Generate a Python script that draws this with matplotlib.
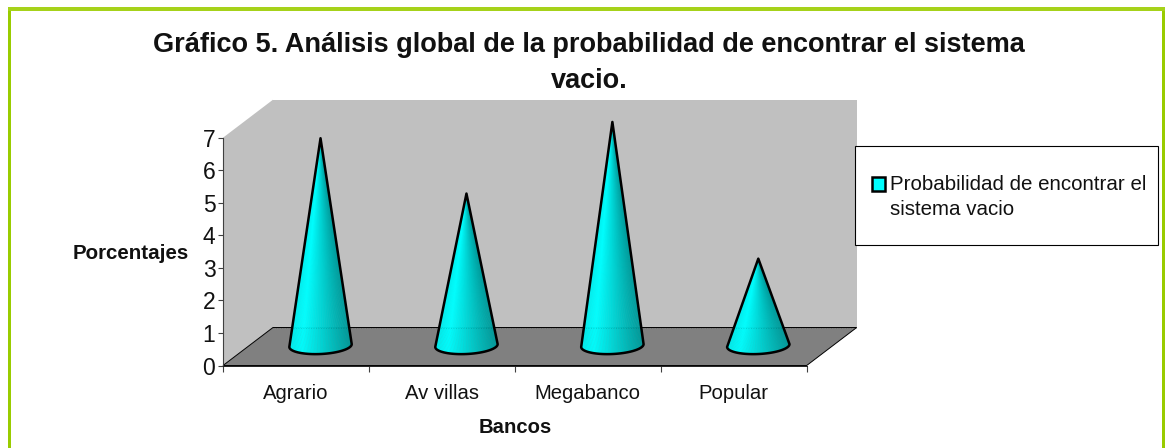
import numpy as np
import matplotlib
matplotlib.use("Agg")
from matplotlib import pyplot as plt
from matplotlib.patches import Polygon, Rectangle, Patch

plt.rcParams['font.family'] = ['Liberation Sans', 'DejaVu Sans']

bancos = ["Agrario", "Av villas", "Megabanco", "Popular"]
porcentajes = [6.4, 4.7, 6.9, 2.7]
serie = "Probabilidad de encontrar el\nsistema vacio"
titulo = "Gráfico 5. Análisis global de la probabilidad de encontrar el sistema\nvacio."

W, H = 1168, 448
fig = plt.figure(figsize=(W / 100, H / 100), dpi=100)
fig.patch.set_facecolor("white")

# frame around the chart, open at the bottom
verde = "#99CC00"
fig.patches.append(Rectangle((8 / W, 0), 3 / W, 1 - 8 / H, transform=fig.transFigure, fc=verde, ec="none"))
fig.patches.append(Rectangle((1162 / W, 0), 3 / W, 1 - 8 / H, transform=fig.transFigure, fc=verde, ec="none"))
fig.patches.append(Rectangle((8 / W, 1 - 11 / H), 1157 / W, 4 / H, transform=fig.transFigure, fc="#A6D21A", ec="none"))

# axes sit on the front plane of the 3D box
left, right, bottom, top = 223, 806.7, 365.5, 137.7
ax = fig.add_axes([left / W, 1 - bottom / H, (right - left) / W, (bottom - top) / H])
ax.set_xlim(-0.5, 3.5)
ax.set_ylim(0, 7)
ax.patch.set_visible(False)

px_x = (right - left) / 4
px_y = (bottom - top) / 7
dx = 50 / px_x
dy = 38 / px_y
x0, x1, ymax = -0.5, 3.5, 7

# walls and floor
ax.add_patch(Polygon([(x0, 0), (x0 + dx, dy), (x0 + dx, ymax + dy), (x0, ymax)], fc="#C0C0C0", ec="none", clip_on=False, zorder=1))
ax.add_patch(Polygon([(x0 + dx, dy), (x1 + dx, dy), (x1 + dx, ymax + dy), (x0 + dx, ymax + dy)], fc="#C0C0C0", ec="none", clip_on=False, zorder=1))
ax.add_patch(Polygon([(x0, 0), (x1, 0), (x1 + dx, dy), (x0 + dx, dy)], fc="#808080", ec="black", lw=0.7, clip_on=False, zorder=2))


def cone_color(u):
    # bright cyan on the lit side, going darker to the right
    if u < 0.2:
        g = 0.93 + 0.07 * u / 0.2
    else:
        g = 1.0 - 0.40 * (u - 0.2) / 0.8
    return (0, g, g)


half_w = 31.2 / px_x
semi_b = 8.5 / px_y
tilt = 1.4 / px_y
base_y = dy / 2 + 0.03

for i, val in enumerate(porcentajes):
    cx = i + dx / 2 - 0.003
    tip = (cx, base_y + val - 0.03)
    t = np.linspace(np.pi, 2 * np.pi, 61)
    bx = cx + half_w * np.cos(t)
    by = base_y + semi_b * np.sin(t) + tilt * np.cos(t)
    # the shaded surface is a fan of thin triangles from the tip,
    # spaced evenly in x so the shading runs smoothly
    fx = np.linspace(bx[0], bx[-1], 81)
    fy = np.interp(fx, bx, by)
    for k in range(len(fx) - 1):
        c = cone_color((k + 0.5) / (len(fx) - 1))
        ax.add_patch(Polygon([tip, (fx[k], fy[k]), (fx[k + 1], fy[k + 1])], fc=c, ec=c, lw=0.3, clip_on=False, zorder=3))
    ax.add_patch(Polygon(np.vstack([[tip], np.column_stack([bx, by])]), fc="none", ec="black", lw=1.8, joinstyle="round", clip_on=False, zorder=4))

# back edge of the floor shows faintly through the cones
ax.plot([x0 + dx, x1 + dx], [dy, dy], color="black", lw=0.6, alpha=0.18, ls=(0, (1, 2)), clip_on=False, zorder=3.5)

ax.spines["top"].set_visible(False)
ax.spines["right"].set_visible(False)
ax.spines["left"].set_color("#404040")
ax.spines["bottom"].set_color("#202020")
ax.spines["bottom"].set_linewidth(0.7)
for s in ax.spines.values():
    s.set_zorder(5)

ax.set_yticks(range(0, 8))
ax.tick_params(axis="y", labelsize=16.5, length=3.5, width=0.8, color="#404040", pad=2, labelcolor="#111111")
ax.set_xticks(range(4))
ax.set_xticklabels(bancos, fontsize=14.6, color="#111111")
ax.tick_params(axis="x", which="major", length=0, pad=13)
ax.set_xticks(np.arange(-0.5, 4), minor=True)
ax.tick_params(axis="x", which="minor", length=4, width=0.8, color="#404040")

fig.text(589 / W, 1 - 63 / H, titulo, ha="center", va="center", fontsize=19.5, fontweight="bold", linespacing=1.51, color="#111111")
fig.text(515 / W, 1 - 427 / H, "Bancos", ha="center", va="center", fontsize=14.6, fontweight="bold", color="#111111")
fig.text(130.5 / W, 1 - 253 / H, "Porcentajes", ha="center", va="center", fontsize=14.8, fontweight="bold", color="#111111")

# legend box
fig.patches.append(Rectangle((854.5 / W, 1 - 245.5 / H), 303 / W, 99.5 / H, transform=fig.transFigure, fc="white", ec="black", lw=0.8, zorder=6))
leg = fig.legend(handles=[Patch(fc="#00FFFF", ec="black", lw=1.8)], labels=[serie], loc="upper left",
                 bbox_to_anchor=(871.5 / W, 1 - 174.5 / H), frameon=False, fontsize=14.8,
                 handlelength=0.68, handleheight=0.68, handletextpad=0.2, borderpad=0, borderaxespad=0)
leg.set_zorder(7)
leg.get_texts()[0].set_linespacing(1.42)
leg.get_texts()[0].set_color("#111111")
# swatch lines up with the first text line
swatch = leg.get_patches()[0]
swatch.set_y(swatch.get_y() + 9.6)

fig.savefig("out.png", dpi=100)
